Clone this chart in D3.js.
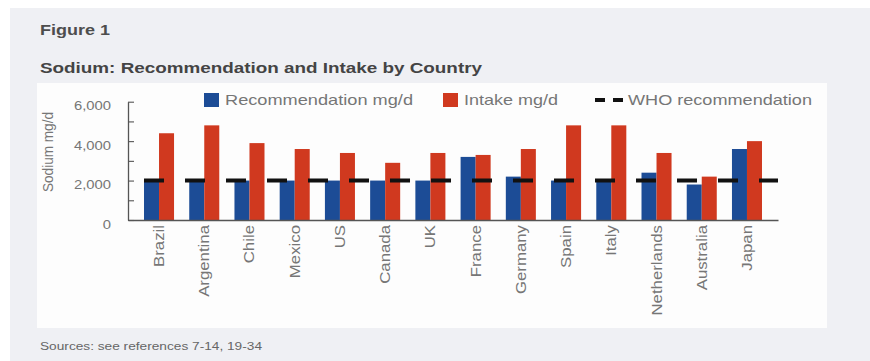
<!DOCTYPE html>
<html>
<head>
<meta charset="utf-8">
<script src="https://cdn.jsdelivr.net/npm/d3@7"></script>
<style>
  body { margin: 0; background: #fff; }
  svg { display: block; font-family: "Liberation Sans", Arial, sans-serif; }
</style>
</head>
<body>
<script>
// datos
const paises = ["Brazil", "Argentina", "Chile", "Mexico", "US", "Canada", "UK", "France",
  "Germany", "Spain", "Italy", "Netherlands", "Australia", "Japan"]
const recomendacion = [2000, 2000, 2000, 2000, 2000, 2000, 2000, 3200, 2200, 2000, 2000, 2400, 1800, 3600]
const ingesta = [4400, 4800, 3900, 3600, 3400, 2900, 3400, 3300, 3600, 4800, 4800, 3400, 2200, 4000]
const oms = 2000
const ticksY = [0, 1000, 2000, 3000, 4000, 5000, 6000]
const series = ["Recommendation mg/d", "Intake mg/d"]

const datos = paises.map((p, i) => ({pais: p, rec: recomendacion[i], ing: ingesta[i]}))

const azul = "#1c4c96"
const rojo = "#d0391f"
const gris = "#767676"

const svg = d3.select("body").append("svg")
  .attr("width", 870)
  .attr("height", 361)

// fondos
svg.append("rect").attr("x", 10).attr("y", 8).attr("width", 860).attr("height", 353).attr("fill", "#eff0f4")
svg.append("rect").attr("x", 37).attr("y", 83).attr("width", 790).attr("height", 245).attr("fill", "#fdfdfd")

// titulos
svg.append("text").attr("x", 40).attr("y", 35).text("Figure 1")
  .attr("font-size", 14).attr("font-weight", "bold").attr("fill", "#4d4d4d")
  .attr("textLength", 70).attr("lengthAdjust", "spacingAndGlyphs")
svg.append("text").attr("x", 40).attr("y", 73).text("Sodium: Recommendation and Intake by Country")
  .attr("font-size", 14).attr("font-weight", "bold").attr("fill", "#444")
  .attr("textLength", 442).attr("lengthAdjust", "spacingAndGlyphs")
svg.append("text").attr("x", 40).attr("y", 350).text("Sources: see references 7-14, 19-34")
  .attr("font-size", 10).attr("fill", "#666")
  .attr("textLength", 222).attr("lengthAdjust", "spacingAndGlyphs")

// escalas
const x = d3.scaleBand().domain(paises).range([128, 778]).paddingInner(0.336).paddingOuter(0.354)
const xs = d3.scaleBand().domain(["rec", "ing"]).range([0, x.bandwidth()])
const y = d3.scaleLinear().domain([0, 6000]).range([220, 101.7])

// EJE Y
const ejeY = svg.append("g").attr("transform", "translate(128,0)")
  .call(d3.axisLeft(y).tickValues(ticksY).tickSizeInner(-6).tickSizeOuter(0).tickPadding(18)
    .tickFormat(d => d % 2000 == 0 ? d3.format(",")(d) : ""))
ejeY.select(".domain").attr("stroke", "#555").attr("stroke-width", 1.3)
ejeY.selectAll(".tick line").attr("stroke", "#555").attr("stroke-width", 1.1)
ejeY.selectAll("text").attr("font-size", 13).attr("fill", gris).attr("dy", "0.62em")
  .attr("font-family", "Liberation Sans, Arial, sans-serif")
  .attr("transform", "scale(1.14,1)").attr("x", -17 / 1.14)

svg.append("text")
  .attr("transform", "translate(53,152) rotate(-90)")
  .attr("text-anchor", "middle")
  .attr("font-size", 15).attr("fill", gris)
  .attr("textLength", 80).attr("lengthAdjust", "spacingAndGlyphs")
  .text("Sodium mg/d")

// barras
const grupos = svg.selectAll(".grupo").data(datos).enter().append("g")
  .attr("transform", d => "translate(" + x(d.pais) + ",0)")
grupos.append("rect")
  .attr("x", xs("rec")).attr("width", xs.bandwidth())
  .attr("y", d => y(d.rec)).attr("height", d => y(0) - y(d.rec))
  .attr("fill", azul)
grupos.append("rect")
  .attr("x", xs("ing")).attr("width", xs.bandwidth())
  .attr("y", d => y(d.ing)).attr("height", d => y(0) - y(d.ing))
  .attr("fill", rojo)

// EJE X
const ejeX = svg.append("g").attr("transform", "translate(0," + y(0) + ")")
  .call(d3.axisBottom(x).tickSize(0).tickSizeOuter(0).tickPadding(0))
ejeX.select(".domain").attr("stroke", "#555").attr("stroke-width", 1.5)
ejeX.selectAll("text")
  .attr("font-size", 14).attr("fill", gris)
  .attr("font-family", "Liberation Sans, Arial, sans-serif")
  .attr("text-anchor", "end")
  .attr("y", 0).attr("dy", 0)
  .attr("transform", "translate(5,5) rotate(-90) scale(1.2,1)")

// linea OMS
svg.append("line")
  .attr("x1", x(paises[0])).attr("x2", x.range()[1])
  .attr("y1", y(oms)).attr("y2", y(oms))
  .attr("stroke", "#111").attr("stroke-width", 4)
  .attr("stroke-dasharray", "20,21")

// leyenda
const leyenda = svg.append("g")
leyenda.append("rect").attr("x", 204).attr("y", 93).attr("width", 15).attr("height", 14).attr("fill", azul)
leyenda.append("text").attr("x", 225).attr("y", 105).text(series[0])
  .attr("font-size", 15).attr("fill", gris).attr("textLength", 188).attr("lengthAdjust", "spacingAndGlyphs")
leyenda.append("rect").attr("x", 443).attr("y", 93).attr("width", 15).attr("height", 14).attr("fill", rojo)
leyenda.append("text").attr("x", 464).attr("y", 105).text(series[1])
  .attr("font-size", 15).attr("fill", gris).attr("textLength", 94).attr("lengthAdjust", "spacingAndGlyphs")
leyenda.append("line").attr("x1", 595).attr("x2", 623).attr("y1", 100).attr("y2", 100)
  .attr("stroke", "#111").attr("stroke-width", 4).attr("stroke-dasharray", "10,8")
leyenda.append("text").attr("x", 628).attr("y", 105).text("WHO recommendation")
  .attr("font-size", 15).attr("fill", gris).attr("textLength", 184).attr("lengthAdjust", "spacingAndGlyphs")
</script>
</body>
</html>
